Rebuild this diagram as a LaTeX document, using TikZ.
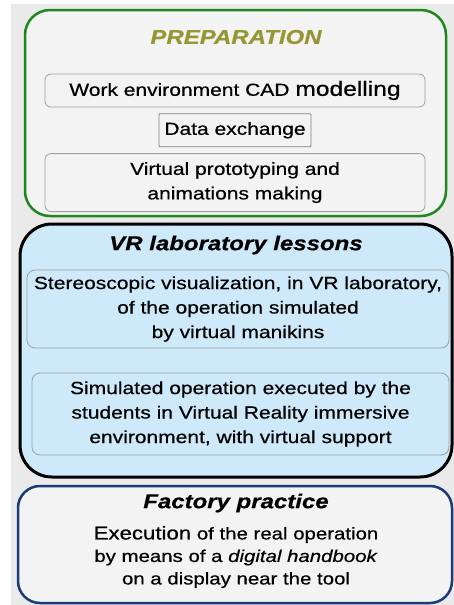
\documentclass[tikz,border=0pt]{standalone}
\usepackage{fontspec}
\setmainfont{Liberation Sans}[FakeStretch=1.2, FakeBold=0.6]
\usetikzlibrary{positioning}

\definecolor{prepgreen}{RGB}{30,135,30}
\definecolor{prepolive}{RGB}{150,150,50}
\definecolor{labblue}{RGB}{205,233,250}
\definecolor{factblue}{RGB}{25,60,120}
\definecolor{panelgray}{RGB}{234,234,234}
\definecolor{boxgray}{RGB}{243,243,243}

\begin{document}
\begin{tikzpicture}[x=1pt, y=-1pt, node distance=6pt,
    frame/.style={draw, line width=2.5pt, inner sep=0pt},
    stepbox/.style={draw=gray!75, line width=0.8pt, rounded corners=6pt, align=center, inner sep=0pt,
        font=\fontsize{17.5}{24.5}\selectfont},
    heading/.style={font=\fontsize{20}{24}\selectfont\bfseries\itshape}]
    \useasboundingbox (0,0) rectangle (454,605);
    \fill[panelgray] (11,4) rectangle (454,605);

    % preparation
    \node[frame, draw=prepgreen, fill=boxgray, rounded corners=25pt, minimum width=421pt, minimum height=206pt] (prep) at (235.5,113) {};
    \node[heading, text=prepolive] (preptitle) at (236,37) {PREPARATION};
    \node[stepbox, fill=boxgray, minimum width=380pt, minimum height=33pt] (cad) at (235,90.5)
        {Work environment CAD {\fontsize{20.5}{24}\selectfont modelling}};
    \node[stepbox, fill=boxgray, draw=gray, rounded corners=1pt, minimum width=152pt, minimum height=33pt, below=of cad] (data) {Data exchange};
    \node[stepbox, fill=boxgray, minimum width=380pt, minimum height=58pt, below=of data] (proto)
        {Virtual prototyping and\\animations making};

    % VR laboratory
    \node[frame, draw=black, line width=3pt, fill=labblue, rounded corners=32pt, minimum width=432pt, minimum height=253pt] (lab) at (236,350.5) {};
    \node[heading] (labtitle) at (236,245) {VR laboratory lessons};
    \node[stepbox, fill=labblue, rounded corners=8pt, minimum width=422pt, minimum height=78pt] (stereo) at (238,309)
        {Stereoscopic visualization, in VR laboratory,\\of the operation simulated\\by virtual manikins};
    \node[stepbox, fill=labblue, rounded corners=8pt, minimum width=417pt, minimum height=82pt] (sim) at (240.5,414)
        {Simulated operation executed by the\\students in Virtual Reality immersive\\environment, with virtual support};

    % factory
    \node[frame, draw=factblue, fill=boxgray, rounded corners=22pt, minimum width=434pt, minimum height=117pt] (fact) at (235,544.5) {};
    \node[heading] (facttitle) at (236,503) {Factory practice};
    \node[align=center, inner sep=0pt, font=\fontsize{17}{22.5}\selectfont] (exec) at (236,557)
        {{\fontsize{18.5}{22.5}\selectfont Execution} of the real operation\\by means of a \textit{digital handbook}\\on a display near the tool};
\end{tikzpicture}
\end{document}
